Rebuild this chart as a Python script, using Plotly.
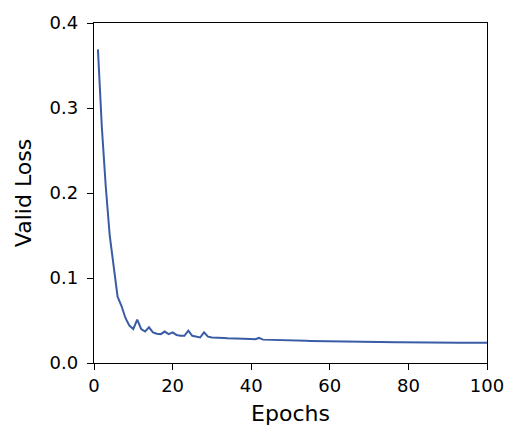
import plotly.graph_objects as go

# validation loss per epoch
epochs = list(range(1, 101))
valid_loss = [
    0.369, 0.277, 0.207, 0.150, 0.114, 0.078, 0.067, 0.053, 0.044, 0.040,
    0.051, 0.040, 0.037, 0.042, 0.036, 0.0345, 0.034, 0.037, 0.034, 0.036,
    0.033, 0.032, 0.032, 0.038, 0.032, 0.031, 0.030, 0.036, 0.031, 0.030,
    0.0295, 0.0295, 0.0293, 0.029, 0.029, 0.0288, 0.0285, 0.0285, 0.0282, 0.0283,
    0.028, 0.0295, 0.0275, 0.0273, 0.0272, 0.0271, 0.027, 0.0268, 0.0267, 0.0266,
    0.0265, 0.0264, 0.0262, 0.0261, 0.0260, 0.0259, 0.0258, 0.0257, 0.0256, 0.0255,
    0.0254, 0.0253, 0.0252, 0.0252, 0.0251, 0.0250, 0.0250, 0.0249, 0.0249, 0.0248,
    0.0248, 0.0247, 0.0247, 0.0246, 0.0246, 0.0245, 0.0245, 0.0245, 0.0244, 0.0244,
    0.0243, 0.0243, 0.0243, 0.0242, 0.0242, 0.0242, 0.0241, 0.0241, 0.0241, 0.0240,
    0.0240, 0.0240, 0.0239, 0.0239, 0.0239, 0.0238, 0.0238, 0.0238, 0.0237, 0.0237,
]

x_ticks = [0, 20, 40, 60, 80, 100]
y_ticks = [0.0, 0.1, 0.2, 0.3, 0.4]
y_tick_labels = ["0.0", "0.1", "0.2", "0.3", "0.4"]

fig = go.Figure()

fig.add_trace(go.Scatter(
    x=epochs,
    y=valid_loss,
    mode='lines',
    line=dict(color='#3a5ca5', width=2),
    showlegend=False
))

axis_style = dict(
    showline=True,
    linecolor='black',
    linewidth=1.3,
    mirror=True,
    showgrid=False,
    zeroline=False,
    automargin=False,
    ticks='outside',
    ticklen=6,
    tickwidth=1.3,
    tickcolor='black',
)

# page body has an 8px margin, so the margins are shifted to compensate
fig.update_layout(
    width=524,
    height=444,
    plot_bgcolor='white',
    paper_bgcolor='white',
    margin=dict(l=86, r=45, t=15, b=89),
    font=dict(family="DejaVu Sans", size=18, color="black"),
    xaxis=dict(
        range=[0, 100],
        tickvals=x_ticks,
        title=dict(text="Epochs", standoff=10),
        **axis_style
    ),
    yaxis=dict(
        range=[0, 0.4],
        tickvals=y_ticks,
        ticktext=y_tick_labels,
        ticklabelstandoff=5,
        title=dict(text="Valid Loss", standoff=11),
        **axis_style
    ),
)

fig.write_html("out.html")
